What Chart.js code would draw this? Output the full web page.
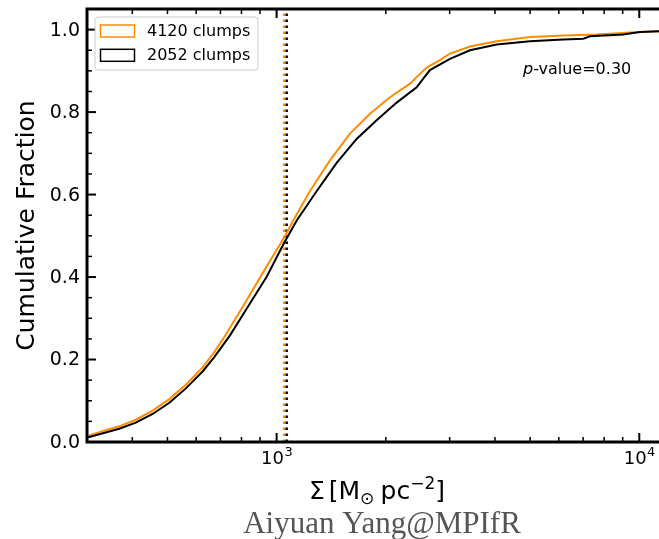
<!DOCTYPE html>
<html>
<head>
<meta charset="utf-8">
<title>Cumulative Fraction of clump surface density</title>
<script src="https://cdn.jsdelivr.net/npm/chart.js@4.4.0/dist/chart.umd.min.js"></script>
<style>
  html, body { margin: 0; padding: 0; background: #fff; overflow: hidden; }
  canvas { display: block; }
</style>
</head>
<body>
<canvas id="cdfChart" width="659" height="539"></canvas>
<script>
// Surface density (M_sun pc^-2) and cumulative fraction, 4120-clump sample
const sigma4120 = [301, 324, 368, 409, 455, 506, 562, 625, 673, 712, 809, 899, 979, 1054, 1111, 1235,
    1403, 1593, 1809, 2054, 2332, 2460, 2593, 2820, 3006, 3413, 4044, 4995, 6173, 7629, 9428, 11334];
const frac4120 = [0.014, 0.024, 0.038, 0.054, 0.076, 0.104, 0.139, 0.181, 0.218, 0.250, 0.330, 0.398, 0.452, 0.499, 0.537, 0.608,
    0.683, 0.748, 0.796, 0.836, 0.869, 0.889, 0.908, 0.926, 0.942, 0.959, 0.972, 0.982, 0.986, 0.988, 0.993, 0.996];

// Same for the 2052-clump sample
const sigma2052 = [301, 368, 409, 455, 506, 562, 625, 673, 743, 844, 938, 1043, 1136, 1289, 1464, 1662,
    1887, 2143, 2433, 2540, 2647, 3006, 3413, 4044, 4995, 6173, 7009, 7311, 9031, 10044, 11334];
const frac2052 = [0.011, 0.032, 0.047, 0.068, 0.095, 0.130, 0.171, 0.206, 0.258, 0.336, 0.400, 0.479, 0.537, 0.608, 0.677, 0.735,
    0.780, 0.823, 0.860, 0.882, 0.902, 0.929, 0.950, 0.964, 0.972, 0.976, 0.978, 0.984, 0.988, 0.994, 0.996];

// Medians (dotted vertical lines)
const median4120 = 1049;
const median2052 = 1066;

const legendLabels = ['4120 clumps', '2052 clumps'];
const yMajorTicks = [0, 0.2, 0.4, 0.6, 0.8, 1.0];
const xMajorTicks = [1000, 10000];
const xMinorTicks = [300, 400, 500, 600, 700, 800, 900, 2000, 3000, 4000, 5000, 6000, 7000, 8000, 9000];
const pValue = '0.30';

const ORANGE = '#ff8c00';
const FONT = "'DejaVu Sans', sans-serif";

function toPoints(xs, ys) {
    return xs.map((x, i) => ({ x: x, y: ys[i] }));
}

// Draws frame, inward ticks, labels, legend and notes on top of the datasets
const frameAndLabels = {
    id: 'frameAndLabels',
    afterDatasetsDraw(chart) {
        const ctx = chart.ctx;
        const area = chart.chartArea;
        const xs = chart.scales.x;
        const ys = chart.scales.y;
        ctx.save();
        ctx.strokeStyle = '#000';
        ctx.fillStyle = '#000';

        // x ticks (bottom and top, pointing in)
        const xTick = (v, len, w) => {
            const px = xs.getPixelForValue(v);
            ctx.lineWidth = w;
            ctx.beginPath();
            ctx.moveTo(px, area.bottom);
            ctx.lineTo(px, area.bottom - len);
            ctx.moveTo(px, area.top);
            ctx.lineTo(px, area.top + len);
            ctx.stroke();
        };
        xMinorTicks.forEach(v => xTick(v, 5, 1.5));
        xMajorTicks.forEach(v => xTick(v, 9, 2));

        // y ticks (left, pointing in)
        for (let v = 0; v <= 1.0001; v += 0.05) {
            const py = ys.getPixelForValue(v);
            const major = Math.abs(v * 5 - Math.round(v * 5)) < 1e-6;
            ctx.lineWidth = major ? 2 : 1.5;
            ctx.beginPath();
            ctx.moveTo(area.left, py);
            ctx.lineTo(area.left + (major ? 9 : 5), py);
            ctx.stroke();
        }

        // frame
        ctx.lineWidth = 3;
        ctx.beginPath();
        ctx.moveTo(area.right + 2, area.top);
        ctx.lineTo(area.left, area.top);
        ctx.lineTo(area.left, area.bottom);
        ctx.lineTo(area.right + 2, area.bottom);
        ctx.stroke();

        // y tick labels
        ctx.font = '19px ' + FONT;
        ctx.textAlign = 'right';
        ctx.textBaseline = 'middle';
        yMajorTicks.forEach(v => {
            ctx.fillText(v.toFixed(1), area.left - 7, ys.getPixelForValue(v) + 1);
        });

        // x tick labels 10^n
        ctx.textAlign = 'left';
        ctx.textBaseline = 'alphabetic';
        xMajorTicks.forEach(v => {
            const px = xs.getPixelForValue(v);
            const exp = String(Math.round(Math.log10(v)));
            ctx.font = '18px ' + FONT;
            const wBase = ctx.measureText('10').width;
            ctx.font = '13px ' + FONT;
            const wExp = ctx.measureText(exp).width;
            const x0 = px - (wBase + wExp) / 2;
            ctx.font = '18px ' + FONT;
            ctx.fillText('10', x0, 464);
            ctx.font = '13px ' + FONT;
            ctx.fillText(exp, x0 + wBase + 0.5, 456);
        });

        // y axis title
        ctx.save();
        ctx.translate(27, (area.top + area.bottom) / 2);
        ctx.rotate(-Math.PI / 2);
        ctx.font = '25px ' + FONT;
        ctx.textAlign = 'center';
        ctx.textBaseline = 'middle';
        ctx.fillText('Cumulative Fraction', 0, 0);
        ctx.restore();

        // x axis title: Σ [M_⊙ pc^-2]
        const parts = [
            { t: 'Σ', s: 25, dy: 0 },
            { t: ' ', s: 12, dy: 0 },
            { t: '[', s: 25, dy: 0 },
            { t: 'M', s: 25, dy: 0 },
            { t: '⊙', s: 17, dy: 5 },
            { t: ' ', s: 20, dy: 0 },
            { t: 'pc', s: 25, dy: 0 },
            { t: '−2', s: 17, dy: -10 },
            { t: ']', s: 25, dy: 0 }
        ];
        let total = 0;
        parts.forEach(p => {
            ctx.font = p.s + 'px ' + FONT;
            p.w = ctx.measureText(p.t).width;
            total += p.w;
        });
        let cx = 377 - total / 2;
        parts.forEach(p => {
            ctx.font = p.s + 'px ' + FONT;
            ctx.fillText(p.t, cx, 499 + p.dy);
            cx += p.w;
        });

        // p-value note
        ctx.font = 'italic 16px ' + FONT;
        ctx.fillText('p', 523, 74);
        const wp = ctx.measureText('p').width;
        ctx.font = '16px ' + FONT;
        ctx.fillText('-value=' + pValue, 523 + wp, 74);

        // legend
        const lx = 95, ly = 17, lw = 163, lh = 53;
        ctx.beginPath();
        ctx.roundRect(lx, ly, lw, lh, 3);
        ctx.fillStyle = 'rgba(255,255,255,0.8)';
        ctx.fill();
        ctx.strokeStyle = '#cccccc';
        ctx.lineWidth = 1;
        ctx.stroke();
        const handleColors = [ORANGE, '#000'];
        ctx.font = '16px ' + FONT;
        ctx.textBaseline = 'middle';
        legendLabels.forEach((label, i) => {
            const y = 25 + i * 24.3;
            ctx.strokeStyle = handleColors[i];
            ctx.lineWidth = 1.5;
            ctx.strokeRect(100.5, y, 34, 12);
            ctx.fillStyle = '#000';
            ctx.fillText(label, 147, y + 6.5);
        });

        // signature
        ctx.font = '31px "Liberation Serif", serif';
        ctx.fillStyle = '#555555';
        ctx.textAlign = 'center';
        ctx.textBaseline = 'alphabetic';
        ctx.fillText('Aiyuan Yang@MPIfR', 382, 533);

        ctx.restore();
    }
};

const ctx = document.getElementById('cdfChart').getContext('2d');
const cdfChart = new Chart(ctx, {
    type: 'line',
    data: {
        datasets: [
            {
                label: legendLabels[0],
                data: toPoints(sigma4120, frac4120),
                borderColor: ORANGE,
                borderWidth: 2,
                pointRadius: 0,
                tension: 0,
                order: 2
            },
            {
                label: legendLabels[1],
                data: toPoints(sigma2052, frac2052),
                borderColor: '#000',
                borderWidth: 2,
                pointRadius: 0,
                tension: 0,
                order: 1
            },
            {
                label: 'median 4120',
                data: [{ x: median4120, y: 0 }, { x: median4120, y: 1.05 }],
                borderColor: ORANGE,
                borderWidth: 2.5,
                borderDash: [2.5, 3.5],
                pointRadius: 0,
                order: 4
            },
            {
                label: 'median 2052',
                data: [{ x: median2052, y: 0 }, { x: median2052, y: 1.05 }],
                borderColor: '#000',
                borderWidth: 2.5,
                borderDash: [2.5, 3.5],
                pointRadius: 0,
                order: 3
            }
        ]
    },
    options: {
        responsive: false,
        animation: false,
        devicePixelRatio: 1,
        layout: { padding: { left: 87, top: 9, right: 0, bottom: 97 } },
        plugins: {
            legend: { display: false },
            tooltip: { enabled: false }
        },
        scales: {
            x: { type: 'logarithmic', min: 300, max: 11334, display: false },
            y: { type: 'linear', min: 0, max: 1.05, display: false }
        }
    },
    plugins: [frameAndLabels]
});
</script>
</body>
</html>
